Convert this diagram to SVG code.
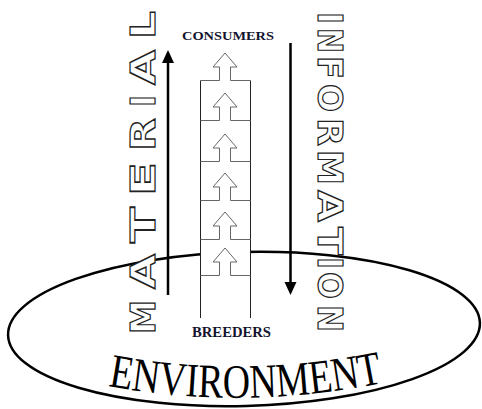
<svg xmlns="http://www.w3.org/2000/svg" width="482" height="409" viewBox="0 0 482 409">
<style>
.lbl{font-family:"Liberation Serif","Times New Roman",serif;font-weight:bold;fill:#14142e}
.big text{font-family:"DejaVu Sans","Liberation Sans",sans-serif;font-weight:bold;font-size:34px;fill:#fff;stroke:#222;stroke-width:1.2}
.env{font-family:"Liberation Serif","Times New Roman",serif;font-size:48px;fill:#000}
.side{stroke:#222;stroke-width:1;fill:none}
.cell{stroke:#666;stroke-width:1;fill:none}
.conn{stroke:#000;stroke-width:2.5;fill:none}
</style>
<defs>
<marker id="head" markerUnits="userSpaceOnUse" markerWidth="16" markerHeight="14" refX="3" refY="6" orient="auto">
<path d="M0,0 L13,6 L0,12 z" fill="#000"/>
</marker>
</defs>
<g id="environment">
<ellipse cx="244" cy="329" rx="236" ry="77" transform="rotate(-1.5 244 329)" fill="none" stroke="#000" stroke-width="2.5"/>
<path id="envPath" d="M108 386 Q245 411 382 383" fill="none"/>
<text class="env"><textPath href="#envPath" textLength="277" lengthAdjust="spacingAndGlyphs">ENVIRONMENT</textPath></text>
</g>
<g id="column">
<rect x="200.5" y="80.5" width="50" height="238" fill="#fff"/>
<path class="side" d="M200.5,80.5 V318 M250.5,80.5 V318"/>
<path class="cell" d="M200.5,80.5 H219.5 V67 H213 L225,53 L237,67 H230.5 V80.5 H250.5"/>
<path class="cell" d="M200.5,120.5 H219.5 V107 H213 L225,93 L237,107 H230.5 V120.5 H250.5"/>
<path class="cell" d="M200.5,161.5 H219.5 V148 H213 L225,134 L237,148 H230.5 V161.5 H250.5"/>
<path class="cell" d="M200.5,200.5 H219.5 V187 H213 L225,173 L237,187 H230.5 V200.5 H250.5"/>
<path class="cell" d="M200.5,239.5 H219.5 V226 H213 L225,212 L237,226 H230.5 V239.5 H250.5"/>
<path class="cell" d="M200.5,275.5 H219.5 V262 H213 L225,248 L237,262 H230.5 V275.5 H250.5"/>
</g>
<g id="consumers">
<text class="lbl" x="182" y="40" font-size="13" textLength="92" lengthAdjust="spacingAndGlyphs">CONSUMERS</text>
</g>
<g id="breeders">
<text class="lbl" x="192" y="337" font-size="14" textLength="79" lengthAdjust="spacingAndGlyphs">BREEDERS</text>
</g>
<g id="material" class="big" transform="translate(155,334) rotate(-90)">
<text x="0" textLength="34" lengthAdjust="spacingAndGlyphs">M</text>
<text x="45" textLength="35" lengthAdjust="spacingAndGlyphs">A</text>
<text x="91" textLength="36" lengthAdjust="spacingAndGlyphs">T</text>
<text x="138" textLength="34" lengthAdjust="spacingAndGlyphs">E</text>
<text x="183" textLength="33" lengthAdjust="spacingAndGlyphs">R</text>
<text x="227" textLength="12" lengthAdjust="spacingAndGlyphs">I</text>
<text x="249" textLength="35" lengthAdjust="spacingAndGlyphs">A</text>
<text x="295" textLength="28" lengthAdjust="spacingAndGlyphs">L</text>
</g>
<g id="information" class="big" transform="translate(318,0) rotate(90)">
<text x="12" textLength="12" lengthAdjust="spacingAndGlyphs">I</text>
<text x="28" textLength="25" lengthAdjust="spacingAndGlyphs">N</text>
<text x="56" textLength="23" lengthAdjust="spacingAndGlyphs">F</text>
<text x="84" textLength="28" lengthAdjust="spacingAndGlyphs">O</text>
<text x="118" textLength="28" lengthAdjust="spacingAndGlyphs">R</text>
<text x="150" textLength="35" lengthAdjust="spacingAndGlyphs">M</text>
<text x="190" textLength="32" lengthAdjust="spacingAndGlyphs">A</text>
<text x="227" textLength="28" lengthAdjust="spacingAndGlyphs">T</text>
<text x="257" textLength="12" lengthAdjust="spacingAndGlyphs">I</text>
<text x="272" textLength="27" lengthAdjust="spacingAndGlyphs">O</text>
<text x="305" textLength="27" lengthAdjust="spacingAndGlyphs">N</text>
</g>
<g id="connectors">
<path class="conn" d="M168,295 V60" marker-end="url(#head)"/>
<path class="conn" d="M290.5,43 V285" marker-end="url(#head)"/>
</g>
</svg>
